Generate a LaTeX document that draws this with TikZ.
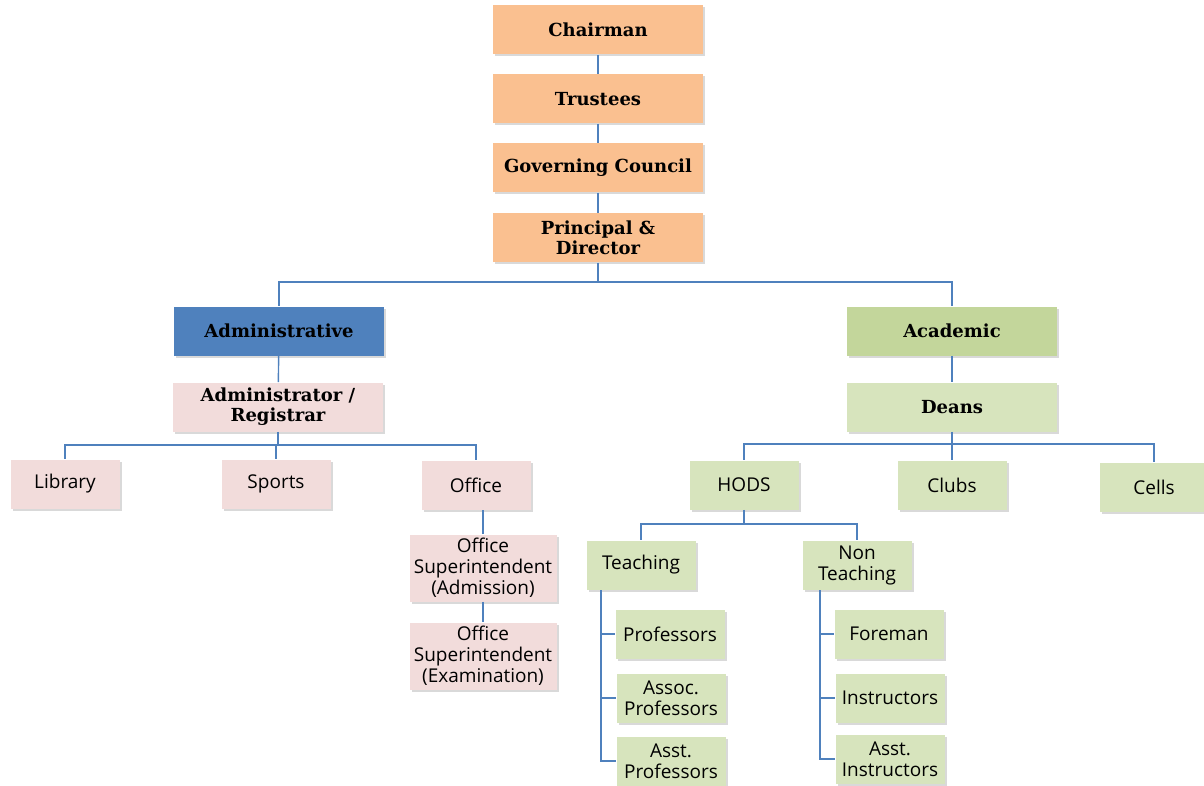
\documentclass[tikz,border=0pt]{standalone}
\usepackage{fontspec}
\setmainfont{DejaVu Serif}
\setsansfont{Open Sans}
\usetikzlibrary{positioning,shadows}
\definecolor{toporange}{HTML}{FAC090}
\definecolor{admpink}{HTML}{F2DCDB}
\definecolor{admblue}{HTML}{4F81BD}
\definecolor{acadgreen}{HTML}{C3D69B}
\definecolor{lightgreen}{HTML}{D7E4BD}
\definecolor{linkblue}{HTML}{4F81BD}

\begin{document}
\begin{tikzpicture}[x=0.5pt,y=-0.5pt,on grid,
   box/.style={rectangle,minimum height=24.5pt,align=center,inner sep=1pt,
     drop shadow={shadow xshift=1pt,shadow yshift=-1pt,opacity=0.3}},
   head/.style={box,minimum width=105pt,font=\bfseries\fontsize{9}{10}\selectfont},
   unit/.style={box,minimum width=54.5pt,font=\sffamily\fontsize{9.5}{10.5}\selectfont},
   link/.style={draw=linkblue,line width=0.7pt}]
   \useasboundingbox (0,0) rectangle (1204,786);
   % top of the chart
   \node[head,fill=toporange] (chair) at (598,30) {Chairman};
   \node[head,fill=toporange] (trust) [below=34.5pt of chair] {Trustees};
   \node[head,fill=toporange] (gov) [below=34.5pt of trust] {Governing Council};
   \node[head,fill=toporange] (prin) [below=35pt of gov] {Principal \&\\Director};
   % administrative side
   \node[head,fill=admblue] (adm) at (279,331) {Administrative};
   \node[head,fill=admpink] (reg) at (278,407) {Administrator /\\Registrar};
   \node[unit,fill=admpink] (lib) at (65,484) {Library};
   \node[unit,fill=admpink] (sport) at (276,484) {Sports};
   \node[unit,fill=admpink] (office) at (476,485) {Office};
   \node[unit,fill=admpink,minimum width=73.5pt,minimum height=33.5pt] (supadm) at (483,568) {Office\\Superintendent\\(Admission)};
   \node[unit,fill=admpink,minimum width=73.5pt,minimum height=33.5pt] (supexam) at (483,656) {Office\\Superintendent\\(Examination)};
   % academic side
   \node[head,fill=acadgreen] (acad) at (952,331) {Academic};
   \node[head,fill=lightgreen] (deans) at (952,407) {Deans};
   \node[unit,fill=lightgreen] (hods) at (744,485) {HODS};
   \node[unit,fill=lightgreen] (clubs) at (952,485) {Clubs};
   \node[unit,fill=lightgreen] (cells) at (1154,487) {Cells};
   \node[unit,fill=lightgreen] (teach) at (641,565) {Teaching};
   \node[unit,fill=lightgreen] (nonteach) at (857,565) {Non\\Teaching};
   \node[unit,fill=lightgreen] (prof) at (670,634) {Professors};
   \node[unit,fill=lightgreen] (assoc) at (671,698) {Assoc.\\Professors};
   \node[unit,fill=lightgreen] (asstprof) at (671,761) {Asst.\\Professors};
   \node[unit,fill=lightgreen] (fore) at (889,634) {Foreman};
   \node[unit,fill=lightgreen] (instr) at (890,698) {Instructors};
   \node[unit,fill=lightgreen] (asstinstr) at (890,759) {Asst.\\Instructors};
   % bus points
   \coordinate (topbus) at (598,282);
   \coordinate (admbus) at (278,445);
   \coordinate (acadbus) at (952,444);
   \coordinate (hodbus) at (744,524);
   \coordinate (tspine) at (601,590);
   \coordinate (nspine) at (820,590);
   % connectors
   \path[link] (chair) edge (trust)
      (trust) edge (gov)
      (gov) edge (prin);
   \draw[link] (prin) -- (topbus) -| (adm);
   \draw[link] (topbus) -| (acad);
   \draw[link] (adm) -- (reg);
   \draw[link] (reg) -- (admbus) -| (lib);
   \draw[link] (admbus) -| (sport);
   \draw[link] (admbus) -| (office);
   \draw[link] (supadm.north) -- (supadm.north |- office.south);
   \draw[link] (supadm) -- (supexam);
   \draw[link] (acad) -- (deans);
   \draw[link] (deans) -- (acadbus) -| (hods);
   \draw[link] (acadbus) -| (clubs);
   \draw[link] (acadbus) -| (cells);
   \draw[link] (hods) -- (hodbus) -| (teach);
   \draw[link] (hodbus) -| (nonteach);
   \draw[link] (tspine) |- (prof);
   \draw[link] (tspine) |- (assoc);
   \draw[link] (tspine) |- (asstprof);
   \draw[link] (nspine) |- (fore);
   \draw[link] (nspine) |- (instr);
   \draw[link] (nspine) |- (asstinstr);
\end{tikzpicture}
\end{document}
